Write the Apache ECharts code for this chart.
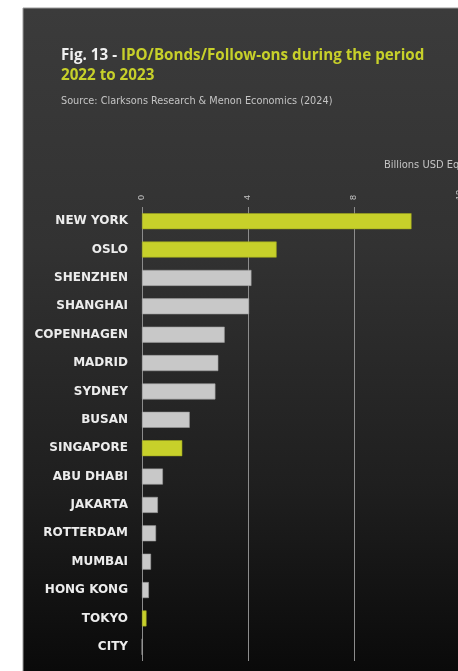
<!DOCTYPE html>
<html>
<head>
<meta charset="utf-8">
<script src="https://cdn.jsdelivr.net/npm/echarts@6/dist/echarts.min.js"></script>
<style>
  html, body { margin: 0; padding: 0; background: #ffffff; }
  #chart { width: 458px; height: 671px; }
</style>
</head>
<body>
<div id="chart"></div>
<script>
// Capital raised via IPOs, bonds and follow-on offerings, 2022-2023 (billions USD equivalent)
const cities = ['NEW YORK', 'OSLO', 'SHENZHEN', 'SHANGHAI', 'COPENHAGEN', 'MADRID', 'SYDNEY', 'BUSAN',
  'SINGAPORE', 'ABU DHABI', 'JAKARTA', 'ROTTERDAM', 'MUMBAI', 'HONG KONG', 'TOKYO', 'CITY'];
const values = [10.17, 5.08, 4.13, 4.04, 3.12, 2.88, 2.77, 1.80, 1.52, 0.79, 0.60, 0.53, 0.34, 0.26, 0.17, 0];
// Cities drawn in the accent colour
const highlighted = ['NEW YORK', 'OSLO', 'SINGAPORE', 'TOKYO'];
const axisTicks = [0, 4, 8, 12];

const ACCENT = '#c7d02a';
const GREY = '#c8c8c8';
const NARROW = 'Liberation Sans Narrow, DejaVu Sans Condensed, sans-serif';

const chart = echarts.init(document.getElementById('chart'));

chart.setOption({
  backgroundColor: 'transparent',
  animation: false,
  graphic: [{
    type: 'rect',
    z: -10,
    shape: { x: 23, y: 8, width: 460, height: 680 },
    style: {
      fill: new echarts.graphic.LinearGradient(0, 0, 0, 1, [
        { offset: 0, color: '#3b3b3b' },
        { offset: 0.35, color: '#323232' },
        { offset: 0.7, color: '#1f1f1f' },
        { offset: 1, color: '#080808' }
      ]),
      stroke: '#9a9a9a',
      lineWidth: 1
    }
  }],
  title: [{
    left: 61,
    top: 46,
    padding: 0,
    text: '{a|Fig. 13 - }{b|IPO/Bonds/Follow-ons during the period}\n{b|2022 to 2023}',
    textStyle: {
      rich: {
        a: { color: '#f0f0f0', fontSize: 15.2, fontWeight: 'bold', fontFamily: 'Open Sans', lineHeight: 19.5 },
        b: { color: ACCENT, fontSize: 15.2, fontWeight: 'bold', fontFamily: 'Open Sans', lineHeight: 19.5 }
      }
    }
  }, {
    left: 61,
    top: 96,
    padding: 0,
    text: 'Source: Clarksons Research & Menon Economics (2024)',
    textStyle: { color: '#c4c4c4', fontSize: 10.8, fontWeight: 'normal', fontFamily: NARROW }
  }, {
    left: 384,
    top: 160,
    padding: 0,
    text: 'Billions USD Equivalent',
    textStyle: { color: '#c4c4c4', fontSize: 11, fontWeight: 'normal', fontFamily: NARROW }
  }],
  grid: { left: 142, top: 207, width: 318, bottom: 10, containLabel: false, outerBoundsMode: 'none' },
  xAxis: {
    type: 'value',
    position: 'top',
    min: axisTicks[0],
    max: axisTicks[axisTicks.length - 1],
    interval: axisTicks[1] - axisTicks[0],
    axisLine: { show: false },
    axisTick: { show: false },
    axisLabel: {
      rotate: -90,
      margin: 7,
      color: '#c4c4c4',
      fontSize: 9,
      fontFamily: 'Liberation Sans'
    },
    splitLine: { show: true, lineStyle: { color: '#8c8c8c', width: 1 } }
  },
  yAxis: {
    type: 'category',
    inverse: true,
    data: cities,
    axisLine: { show: false },
    axisTick: { show: false },
    axisLabel: {
      margin: 14,
      color: '#ececec',
      fontSize: 12,
      fontWeight: 'bold',
      fontFamily: 'DejaVu Sans, sans-serif'
    }
  },
  series: [{
    type: 'bar',
    barWidth: 16,
    data: values.map((v, i) => ({
      value: v,
      itemStyle: {
        color: highlighted.includes(cities[i]) ? ACCENT : GREY,
        borderColor: highlighted.includes(cities[i]) ? '#9fa81e' : '#9c9c9c',
        borderWidth: 0.6
      }
    }))
  }]
});
</script>
</body>
</html>
